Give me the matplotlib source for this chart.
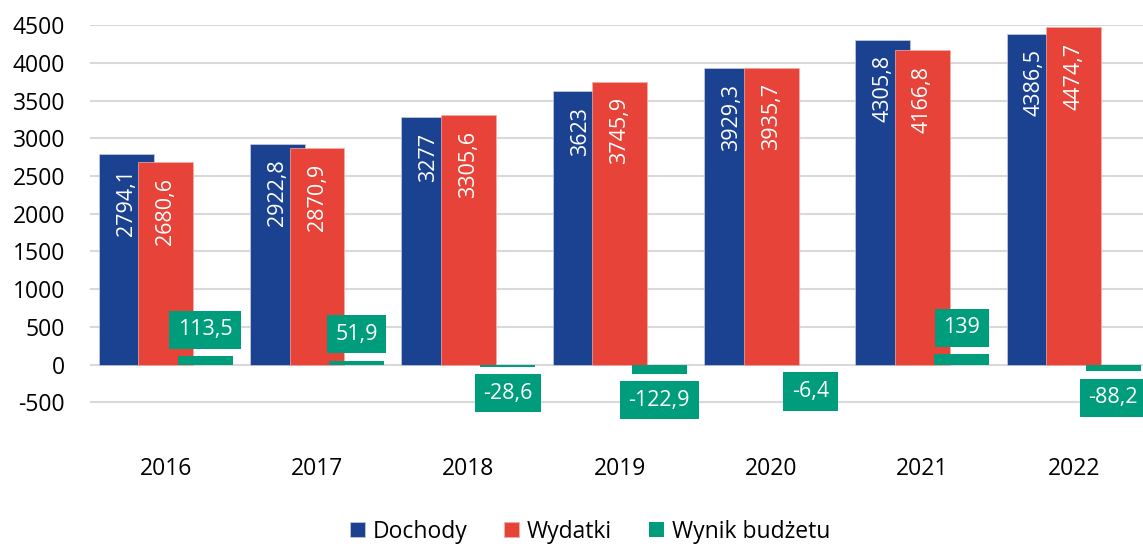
import numpy as np
import matplotlib
matplotlib.use('Agg')
import matplotlib.pyplot as plt

plt.rcParams['font.family'] = ['Open Sans', 'DejaVu Sans']

years = ['2016', '2017', '2018', '2019', '2020', '2021', '2022']
dochody = [2794.1, 2922.8, 3277, 3623, 3929.3, 4305.8, 4386.5]
wydatki = [2680.6, 2870.9, 3305.6, 3745.9, 3935.7, 4166.8, 4474.7]
wynik = [113.5, 51.9, -28.6, -122.9, -6.4, 139, -88.2]

c_blue = '#1B4191'
c_red = '#E84339'
c_green = '#009D7D'


def fmt(v):
    return f"{v:g}".replace('.', ',')


fig = plt.figure(figsize=(11.43, 5.48), dpi=100)
ax = fig.add_axes([0.0787, 0.197, 0.927, 0.757])

x = np.arange(len(years))
w = 0.363
step = 0.261

b1 = ax.bar(x - step, dochody, w, color=c_blue, edgecolor='#c8cde0', linewidth=0.5, zorder=2, label='Dochody')
b2 = ax.bar(x, wydatki, w, color=c_red, edgecolor='#f0b0aa', linewidth=0.5, zorder=3, label='Wydatki')
b3 = ax.bar(x + step, wynik, w, color=c_green, zorder=4, label='Wynik budżetu')

# labels inside the top of blue / red bars
for xs, vals in ((x - step, dochody), (x, wydatki)):
    for xi, v in zip(xs, vals):
        ax.annotate(fmt(v), (xi, v), xytext=(0, -11), textcoords='offset points',
                    rotation=90, ha='center', va='top', color='white', fontsize=15.5, zorder=6)

# boxed labels for the budget result
for xi, v in zip(x + step, wynik):
    off = 19 if v >= 0 else -19
    ax.annotate(fmt(v), (xi, v), xytext=(0, off), textcoords='offset points',
                ha='center', va='center', color='white', fontsize=15.5, zorder=7,
                annotation_clip=False,
                bbox=dict(boxstyle='square,pad=0.4', fc=c_green, ec='none'))

ax.set_xlim(-0.5, len(years) - 0.5)
ax.set_ylim(-1000, 4500)
yt = np.arange(-500, 4501, 500)
ax.set_yticks(yt)
ax.set_yticklabels([str(t) for t in yt], fontsize=16.5)
for t in yt:
    ax.axhline(t, color='#d9d9d9', linewidth=1.5, zorder=1)
ax.set_xticks(x)
ax.set_xticklabels(years, fontsize=16.5)
ax.tick_params(axis='both', length=0)
ax.tick_params(axis='y', pad=18)
ax.tick_params(axis='x', pad=12)
for s in ax.spines.values():
    s.set_visible(False)

fig.legend(handles=[b1, b2, b3], loc='center', bbox_to_anchor=(0.516, 0.03), ncol=3,
           frameon=False, fontsize=16.5, handlelength=0.65, handleheight=0.65,
           handletextpad=0.35, columnspacing=1.6)

fig.savefig('out.png', dpi=100)
